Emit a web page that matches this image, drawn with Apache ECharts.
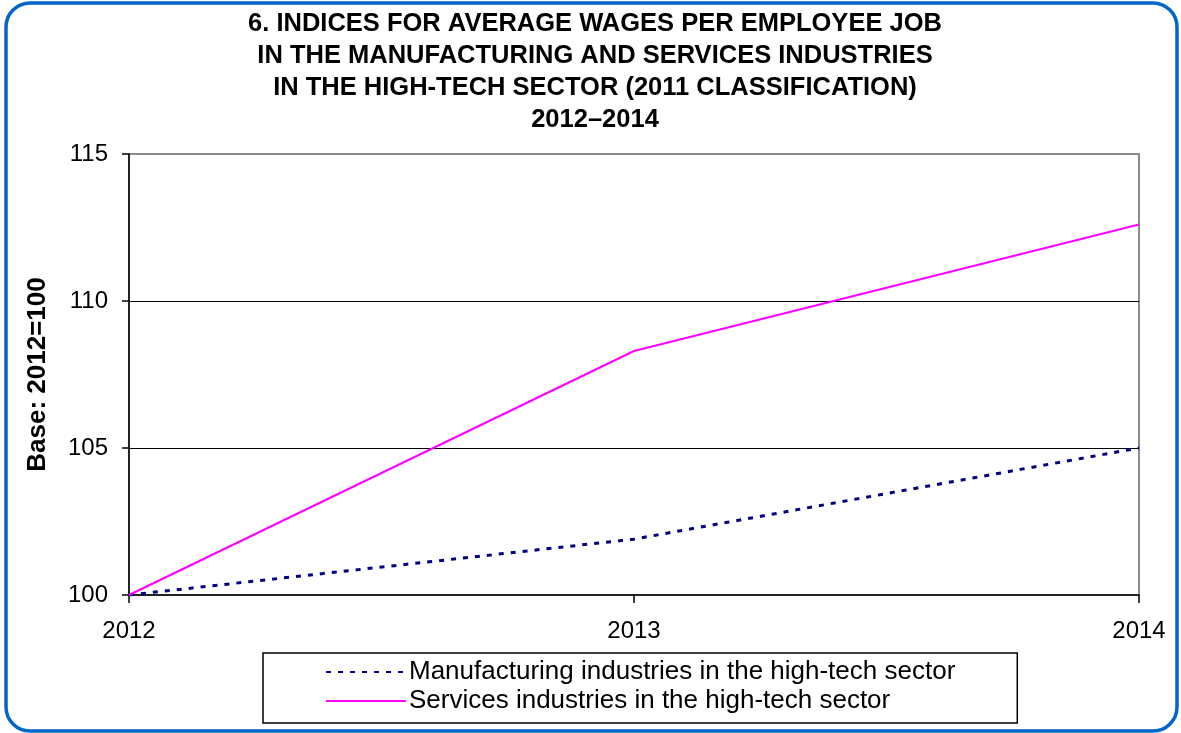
<!DOCTYPE html>
<html>
<head>
<meta charset="utf-8">
<script src="https://cdn.jsdelivr.net/npm/echarts@6/dist/echarts.min.js"></script>
<style>
  html, body { margin: 0; padding: 0; background: #fff; }
  #chart { width: 1181px; height: 733px; }
</style>
</head>
<body>
<div id="chart"></div>
<script>
// Years on the horizontal axis
const years = ['2012', '2013', '2014'];
// Wage indices, base 2012 = 100
const manufacturing = [100, 101.9, 105.0];
const services = [100, 108.3, 112.6];
// Vertical axis range
const yMin = 100;
const yMax = 115;
const yStep = 5;

const titleText = '6. INDICES FOR AVERAGE WAGES PER EMPLOYEE JOB\nIN THE MANUFACTURING AND SERVICES INDUSTRIES\nIN THE HIGH-TECH SECTOR (2011 CLASSIFICATION)\n2012\u20132014';
const font = 'Arial, "Liberation Sans", sans-serif';

const chart = echarts.init(document.getElementById('chart'), null, { renderer: 'canvas' });

chart.setOption({
  backgroundColor: '#ffffff',
  animation: false,
  textStyle: { fontFamily: font },
  title: {
    text: titleText,
    left: 590,
    top: 3,
    textAlign: 'center',
    textStyle: {
      fontFamily: font,
      fontSize: 25.5,
      fontWeight: 'bold',
      color: '#000',
      lineHeight: 32
    }
  },
  graphic: [{
    type: 'rect',
    shape: { x: 6, y: 3, width: 1171, height: 728, r: 24 },
    style: { fill: 'none', stroke: '#0066cc', lineWidth: 3.5 },
    silent: true,
    z: 0
  }],
  legend: {
    orient: 'vertical',
    left: 263,
    top: 653,
    padding: [6, 62, 9, 62],
    itemGap: 3,
    itemWidth: 80,
    itemHeight: 14,
    borderColor: '#000',
    borderWidth: 1.5,
    backgroundColor: '#fff',
    itemStyle: { opacity: 0 },
    textStyle: { fontFamily: font, fontSize: 26, color: '#000', padding: [0, 0, 0, -2] },
    data: ['Manufacturing industries in the high-tech sector', 'Services industries in the high-tech sector']
  },
  grid: {
    left: 129,
    right: 42,
    top: 154,
    bottom: 138,
    show: true,
    borderColor: '#8c8c8c',
    borderWidth: 2
  },
  xAxis: {
    type: 'category',
    data: years,
    boundaryGap: false,
    axisLine: { lineStyle: { color: '#000', width: 1.5 } },
    axisTick: { show: true, length: 8, alignWithLabel: true, lineStyle: { color: '#000', width: 1.5 } },
    axisLabel: { fontFamily: font, fontSize: 24, color: '#000', margin: 24 },
    splitLine: { show: false }
  },
  yAxis: {
    type: 'value',
    min: yMin,
    max: yMax,
    interval: yStep,
    name: 'Base: 2012=100',
    nameLocation: 'middle',
    nameGap: 78,
    nameTextStyle: { fontFamily: font, fontSize: 26, fontWeight: 'bold', color: '#000' },
    axisLine: { show: true, lineStyle: { color: '#000', width: 1.5 } },
    axisTick: { show: true, length: 7, lineStyle: { color: '#000', width: 1.5 } },
    axisLabel: { fontFamily: font, fontSize: 24, color: '#000', margin: 21 },
    splitLine: { show: true, showMinLine: false, showMaxLine: false, lineStyle: { color: '#000', width: 1 } }
  },
  series: [
    {
      name: 'Manufacturing industries in the high-tech sector',
      type: 'line',
      data: manufacturing,
      symbol: 'none',
      lineStyle: { color: '#000080', width: 3, type: [5, 7] },
      itemStyle: { color: '#000080' },
      z: 3
    },
    {
      name: 'Services industries in the high-tech sector',
      type: 'line',
      data: services,
      symbol: 'none',
      lineStyle: { color: '#ff00ff', width: 2 },
      itemStyle: { color: '#ff00ff' },
      z: 4
    }
  ]
});
</script>
</body>
</html>
